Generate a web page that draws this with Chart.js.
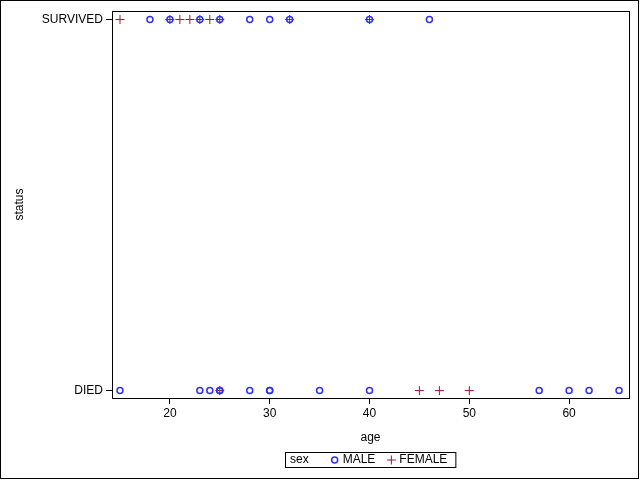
<!DOCTYPE html>
<html>
<head>
<meta charset="utf-8">
<script src="https://cdn.jsdelivr.net/npm/chart.js@4"></script>
<style>
  html, body { margin: 0; padding: 0; background: #fff; }
  #wrap { width: 640px; height: 480px; }
</style>
</head>
<body>
<div id="wrap"><canvas id="statusChart" width="640" height="480"></canvas></div>
<script>
const statusLabels = ['DIED', 'SURVIVED'];
const ageTicks = [20, 30, 40, 50, 60];
const maleSurvivedAge = [18, 20, 23, 25, 28, 30, 32, 40, 46];
const femaleSurvivedAge = [15, 20, 21, 22, 23, 24, 25, 32, 40];
const maleDiedAge = [15, 23, 24, 25, 25, 28, 30, 30, 35, 40, 57, 60, 62, 65];
const femaleDiedAge = [25, 45, 47, 50];

const FONT = '"Liberation Sans", Arial, sans-serif';
const BLUE = '#3030f0';
const RED = '#a8102e';

function toPoints(died, survived) {
  return died.map(a => ({ x: a, y: 0 })).concat(survived.map(a => ({ x: a, y: 1 })));
}

// frame around plot area and around the whole picture
const framePlugin = {
  id: 'frame',
  afterDraw(chart) {
    const { ctx, chartArea: a } = chart;
    ctx.save();
    ctx.strokeStyle = '#000';
    ctx.lineWidth = 1;
    ctx.strokeRect(Math.round(a.left) + 0.5, Math.round(a.top) + 0.5,
      Math.round(a.right - a.left), Math.round(a.bottom - a.top));
    ctx.strokeRect(0.5, 0.5, 638, 478);
    ctx.restore();
  }
};

// boxed legend with inline "sex" title
const boxLegend = {
  id: 'boxLegend',
  afterDraw(chart) {
    const { ctx } = chart;
    ctx.save();
    ctx.font = '12px ' + FONT;
    ctx.textBaseline = 'middle';
    ctx.fillStyle = '#000';
    const y = 460;
    const start = 285;
    let x = 290;
    ctx.fillText('sex', x, y);
    x += ctx.measureText('sex').width + 22;
    chart.data.datasets.forEach(ds => {
      const cx = x + 4;
      ctx.strokeStyle = ds.borderColor;
      ctx.lineWidth = ds.borderWidth;
      ctx.beginPath();
      if (ds.pointStyle === 'circle') ctx.arc(cx, y, ds.pointRadius, 0, Math.PI * 2);
      else {
        ctx.moveTo(cx - ds.pointRadius, y); ctx.lineTo(cx + ds.pointRadius, y);
        ctx.moveTo(cx, y - ds.pointRadius); ctx.lineTo(cx, y + ds.pointRadius);
      }
      ctx.stroke();
      x += 12;
      ctx.fillStyle = '#000';
      ctx.fillText(ds.label, x, y);
      x += ctx.measureText(ds.label).width + 12;
    });
    ctx.strokeStyle = '#000';
    ctx.lineWidth = 1;
    ctx.strokeRect(start + 0.5, 452.5, x - 4 - start, 15);
    ctx.restore();
  }
};

new Chart(document.getElementById('statusChart'), {
  type: 'scatter',
  data: {
    datasets: [{
      label: 'MALE',
      data: toPoints(maleDiedAge, maleSurvivedAge),
      pointStyle: 'circle',
      pointRadius: 3,
      borderWidth: 1.5,
      borderColor: BLUE,
      backgroundColor: 'rgba(0,0,0,0)'
    }, {
      label: 'FEMALE',
      data: toPoints(femaleDiedAge, femaleSurvivedAge),
      pointStyle: 'cross',
      pointRadius: 4.5,
      borderWidth: 1,
      borderColor: RED,
      backgroundColor: RED
    }]
  },
  options: {
    responsive: false,
    animation: false,
    layout: { padding: { top: 11, right: 11, left: 0, bottom: 0 } },
    plugins: { legend: { display: false }, tooltip: { enabled: false } },
    scales: {
      x: {
        type: 'linear',
        min: 14.2,
        max: 66,
        afterBuildTicks: s => { s.ticks = ageTicks.map(v => ({ value: v })); },
        afterFit: s => { s.height = 82; },
        grid: { drawOnChartArea: false, tickLength: 6, color: '#000' },
        border: { color: '#000' },
        ticks: { color: '#000', padding: 2, font: { family: FONT, size: 12 } },
        title: { display: true, text: 'age', color: '#000', padding: { top: 0, bottom: 35 },
          font: { family: FONT, size: 12 } }
      },
      y: {
        type: 'linear',
        min: -0.02,
        max: 1.023,
        afterBuildTicks: s => { s.ticks = [{ value: 0 }, { value: 1 }]; },
        afterFit: s => { s.width = 112; },
        grid: { drawOnChartArea: false, tickLength: 6, color: '#000' },
        border: { color: '#000' },
        ticks: { color: '#000', padding: 3, font: { family: FONT, size: 12 },
          callback: v => statusLabels[v] },
        title: { display: true, text: 'status', color: '#000', padding: { top: 12, bottom: 0 },
          font: { family: FONT, size: 12 } }
      }
    }
  },
  plugins: [framePlugin, boxLegend]
});
</script>
</body>
</html>
